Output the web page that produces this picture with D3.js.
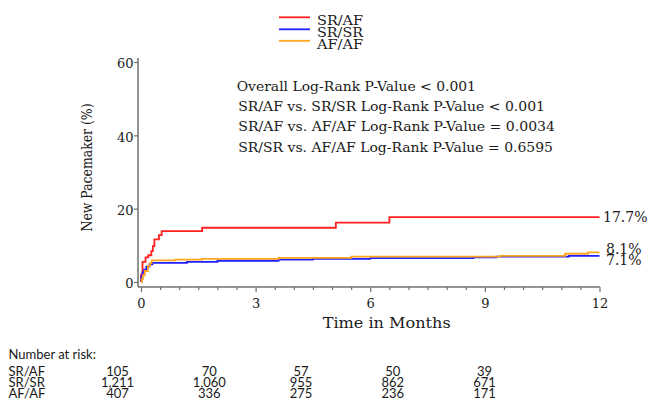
<!DOCTYPE html>
<html><head><meta charset="utf-8">
<script src="https://cdn.jsdelivr.net/npm/d3@7"></script>
<style>body{margin:0;background:#fff}</style>
</head><body><svg id="c" width="650" height="400"></svg>
<script>
// ---------- data ----------
const seriesNames = ["SR/AF", "SR/SR", "AF/AF"];
const seriesColors = ["#ff2020", "#1f1fff", "#ffa51f"];

const srafTimes  = [0, 0, 0.04, 0.12, 0.19, 0.27, 0.31, 0.35, 0.47, 0.54, 1.6, 5.1, 6.5];
const srafValues = [0, 2.0, 5.5, 6.7, 7.3, 8.4, 9.8, 11.6, 12.8, 13.9, 14.8, 16.2, 17.7];

const srsrTimes  = [0, 0.01, 0.04, 0.08, 0.14, 0.22, 0.30, 1.2, 2.0, 3.6, 4.5, 6.0, 8.7, 9.3, 11.2];
const srsrValues = [0, 1.5, 2.6, 3.4, 4.2, 4.8, 5.2, 5.5, 5.8, 6.1, 6.3, 6.5, 6.7, 6.9, 7.1];

const afafTimes  = [0, 0.02, 0.05, 0.10, 0.18, 0.24, 0.28, 0.9, 1.6, 3.6, 5.5, 9.4, 11.1, 11.7];
const afafValues = [0, 0.8, 1.8, 3.0, 4.4, 5.2, 5.9, 6.1, 6.3, 6.6, 6.9, 7.1, 7.7, 8.1];

const endLabels = ["17.7%", "7.1%", "8.1%"];
const xTicks = [0, 3, 6, 9, 12];
const yTicks = [0, 20, 40, 60];
const pValueLines = [
  "Overall Log-Rank P-Value < 0.001",
  "SR/AF vs. SR/SR Log-Rank P-Value < 0.001",
  "SR/AF vs. AF/AF Log-Rank P-Value = 0.0034",
  "SR/SR vs. AF/AF Log-Rank P-Value = 0.6595"
];
const riskTimes = [0, 3, 6, 9, 12];
const riskSRAF = [105, 70, 57, 50, 39];
const riskSRSR = [1211, 1060, 955, 862, 671];
const riskAFAF = [407, 336, 275, 236, 171];

// ---------- drawing ----------
const svg = d3.select("#c");
const serif = "DejaVu Serif, serif";
const txt = "#1a1a1a";
const axisCol = "#707070";

const x = d3.scaleLinear().domain([0, 12]).range([141, 599.5]);
const y = d3.scaleLinear().domain([0, 60]).range([282, 62]);
const axisY = y(0) + 5;
const axisX = x(0) - 3;

// x axis
const halfTicks = d3.range(0, 12.01, 0.5);
const gx = svg.append("g").attr("transform", `translate(0,${axisY})`)
  .call(d3.axisBottom(x).tickValues(halfTicks).tickSizeOuter(0)
        .tickFormat(d => xTicks.includes(d) ? d : ""));
gx.select(".domain").attr("d", `M${axisX},0H${x(12) + 0.5}`)
  .attr("stroke", axisCol).attr("stroke-width", 1.5);
gx.selectAll(".tick line").attr("stroke", axisCol).attr("stroke-width", 1.2)
  .attr("y2", d => xTicks.includes(d) ? 5 : 3);
gx.selectAll(".tick text").attr("y", 21).attr("dy", 0)
  .attr("font-family", serif).attr("font-size", 13).attr("fill", txt);

// y axis
const gy = svg.append("g").attr("transform", `translate(${axisX},0)`)
  .call(d3.axisLeft(y).tickValues(yTicks).tickSize(4).tickSizeOuter(0));
gy.select(".domain").attr("d", `M0,${y(60) - 4}V${axisY}`)
  .attr("stroke", axisCol).attr("stroke-width", 1.5);
gy.selectAll(".tick line").attr("stroke", axisCol).attr("stroke-width", 1.2);
gy.selectAll(".tick text").attr("x", -4.5).attr("dy", "0.45em")
  .attr("font-family", serif).attr("font-size", 13).attr("fill", txt);

// axis titles
svg.append("text").attr("x", 386.7).attr("y", 328.3).attr("text-anchor", "middle")
  .attr("font-family", serif).attr("font-size", 15).attr("fill", txt)
  .attr("textLength", 128).attr("lengthAdjust", "spacingAndGlyphs")
  .text("Time in Months");
svg.append("text").attr("transform", "translate(91.5,167.5) rotate(-90)")
  .attr("text-anchor", "middle")
  .attr("font-family", serif).attr("font-size", 15).attr("fill", txt)
  .attr("textLength", 128).attr("lengthAdjust", "spacingAndGlyphs")
  .text("New Pacemaker (%)");

// curves
const series = [
  {t: srafTimes, v: srafValues},
  {t: srsrTimes, v: srsrValues},
  {t: afafTimes, v: afafValues}
];
const line = d3.line().x(d => x(d[0])).y(d => y(d[1])).curve(d3.curveStepAfter);
series.forEach((s, i) => {
  const pts = s.t.map((t, k) => [t, s.v[k]]);
  pts.push([12, s.v[s.v.length - 1]]);
  svg.append("path").datum(pts).attr("d", line)
    .attr("fill", "none").attr("stroke", seriesColors[i]).attr("stroke-width", 1.8);
});

// end labels
const endDy = [-0.5, 4, -3.5];
const endDx = [3.5, 6.5, 6.5];
series.forEach((s, i) => {
  const last = s.v[s.v.length - 1];
  svg.append("text").attr("x", x(12) + endDx[i]).attr("y", y(last) + endDy[i])
    .attr("dy", "0.36em")
    .attr("font-family", serif).attr("font-size", 14).attr("fill", txt)
    .text(endLabels[i]);
});

// legend
const legY = [17.3, 29.3, 40.8];
seriesNames.forEach((n, i) => {
  svg.append("line").attr("x1", 279).attr("x2", 310).attr("y1", legY[i]).attr("y2", legY[i])
    .attr("stroke", seriesColors[i]).attr("stroke-width", 1.8);
  svg.append("text").attr("x", 317).attr("y", legY[i] + 7.8)
    .attr("font-family", serif).attr("font-size", 13.5).attr("fill", txt)
    .attr("textLength", 46).attr("lengthAdjust", "spacingAndGlyphs")
    .text(n);
});

// p-value annotation
const pvX = [236.7, 238.3, 238.3, 238.3];
const pvY = [90.7, 111, 131.2, 151.7];
const pvW = [239.3, 306.7, 316.7, 314.7];
pValueLines.forEach((l, i) => {
  svg.append("text").attr("x", pvX[i]).attr("y", pvY[i])
    .attr("font-family", serif).attr("font-size", 12.5).attr("fill", txt)
    .attr("textLength", pvW[i]).attr("lengthAdjust", "spacingAndGlyphs")
    .text(l);
});

// number at risk table
const sans = "Lato, sans-serif";
const rx = d3.scalePoint().domain(riskTimes).range([117.5, 484.5]);
svg.append("text").attr("x", 8.5).attr("y", 358.5)
  .attr("font-family", sans).attr("font-size", 13).attr("fill", txt)
  .text("Number at risk:");
const riskRows = [riskSRAF, riskSRSR, riskAFAF];
const rowY = [376, 387.2, 398.4];
const fmt = d3.format(",");
riskRows.forEach((row, i) => {
  svg.append("text").attr("x", 8.5).attr("y", rowY[i])
    .attr("font-family", sans).attr("font-size", 13).attr("fill", txt)
    .text(seriesNames[i]);
  row.forEach((v, k) => {
    svg.append("text").attr("x", rx(riskTimes[k])).attr("y", rowY[i])
      .attr("text-anchor", "middle")
      .attr("font-family", sans).attr("font-size", 13).attr("fill", txt)
      .text(fmt(v));
  });
});
</script></body></html>
